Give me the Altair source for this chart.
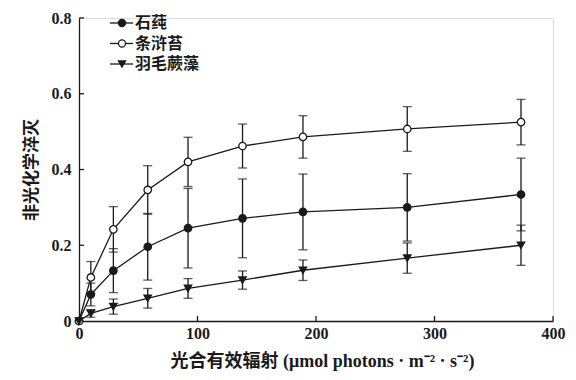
import altair as alt
import pandas as pd

# ---- data ----
ppfd = [0, 10, 29, 58, 92, 138, 189, 277, 373]
series = ["石莼", "条浒苔", "羽毛蕨藻"]
mean_shichun = [0, 0.070, 0.133, 0.196, 0.245, 0.271, 0.288, 0.300, 0.334]
err_shichun = [0, 0.030, 0.058, 0.088, 0.105, 0.104, 0.100, 0.089, 0.096]
mean_tiaohutai = [0, 0.115, 0.242, 0.346, 0.420, 0.462, 0.486, 0.507, 0.525]
err_tiaohutai = [0, 0.042, 0.060, 0.064, 0.065, 0.058, 0.056, 0.059, 0.060]
mean_yumao = [0, 0.020, 0.038, 0.060, 0.086, 0.108, 0.134, 0.166, 0.200]
err_yumao = [0, 0.010, 0.020, 0.026, 0.026, 0.024, 0.027, 0.040, 0.053]
xticks = [0, 100, 200, 300, 400]
yticks = [0, 0.2, 0.4, 0.6, 0.8]

rows = []
for name, m, e in zip(series, [mean_shichun, mean_tiaohutai, mean_yumao],
                      [err_shichun, err_tiaohutai, err_yumao]):
    for x, mv, ev in zip(ppfd, m, e):
        rows.append({"name": name, "x": x, "y": mv, "lo": mv - ev, "hi": mv + ev})
df = pd.DataFrame(rows)
df_err = df[df["x"] > 0]

W, H = 474, 303
INK = "#1a1a1a"
SERIF = "Liberation Serif"
CJK = "Noto Sans CJK SC"

xs = alt.Scale(domain=[0, 400], nice=False, zero=False)
ys = alt.Scale(domain=[0, 0.8], nice=False)

shape_scale = alt.Scale(domain=series, range=["circle", "circle", "triangle-down"])
fill_scale = alt.Scale(domain=series, range=[INK, "white", INK])

X = alt.X("x:Q", scale=xs, axis=alt.Axis(
    values=xticks, ticks=False, grid=False, domainColor=INK, domainWidth=1.3, labelFlush=False,
    labelFont=SERIF, labelFontWeight="bold", labelFontSize=16, labelColor=INK, labelPadding=4,
    title="光合有效辐射 (μmol photons · m⁻² · s⁻²)", titleFont=f"{SERIF}, {CJK}",
    titleFontWeight="bold", titleFontSize=18, titleColor=INK, titlePadding=11, titleX=243))
Y = alt.Y("y:Q", scale=ys, axis=alt.Axis(
    values=yticks, ticks=False, grid=False, domainColor=INK, domainWidth=1.3, labelFlush=False,
    labelFont=SERIF, labelFontWeight="bold", labelFontSize=16, labelColor=INK, labelPadding=8,
    labelExpr="datum.value == 0 ? '0' : format(datum.value, '.1f')",
    title="非光化学淬灭", titleFont=CJK, titleFontWeight="bold", titleFontSize=17,
    titleColor=INK, titlePadding=11))

base = alt.Chart(df)
lines = base.mark_line(color=INK, strokeWidth=1.3).encode(x=X, y=Y, detail="name:N")
rules = alt.Chart(df_err).mark_rule(color=INK, strokeWidth=1.3).encode(
    x=alt.X("x:Q", scale=xs), y=alt.Y("lo:Q", scale=ys), y2="hi:Q")
cap_lo = alt.Chart(df_err).mark_tick(color=INK, thickness=1.3, size=9, orient="horizontal").encode(
    x=alt.X("x:Q", scale=xs), y=alt.Y("lo:Q", scale=ys))
cap_hi = alt.Chart(df_err).mark_tick(color=INK, thickness=1.3, size=9, orient="horizontal").encode(
    x=alt.X("x:Q", scale=xs), y=alt.Y("hi:Q", scale=ys))
points = base.mark_point(size=55, stroke=INK, strokeWidth=1.3, opacity=1, filled=False).encode(
    x=alt.X("x:Q", scale=xs), y=alt.Y("y:Q", scale=ys),
    shape=alt.Shape("name:N", scale=shape_scale, legend=None),
    fill=alt.Fill("name:N", scale=fill_scale, legend=None))

# inward tick marks
xt = alt.Chart(pd.DataFrame({"v": xticks[1:]})).mark_rule(color=INK, strokeWidth=1.3).encode(
    x=alt.X("v:Q", scale=xs), y=alt.value(H - 5), y2=alt.value(H))
yt = alt.Chart(pd.DataFrame({"v": yticks[1:]})).mark_rule(color=INK, strokeWidth=1.3).encode(
    y=alt.Y("v:Q", scale=ys), x=alt.value(0), x2=alt.value(5))

main = alt.layer(lines, rules, cap_lo, cap_hi, xt, yt, points)

# legend drawn inside the plot
leg_df = pd.DataFrame({"name": series})
LY = alt.Y("name:N", scale=alt.Scale(type="point", domain=series, range=[5, 46], padding=0), axis=None)
leg_line = alt.Chart(leg_df).mark_rule(color=INK, strokeWidth=1.3).encode(
    y=LY, x=alt.value(31), x2=alt.value(54))
leg_pt = alt.Chart(leg_df).mark_point(size=50, stroke=INK, strokeWidth=1.3, opacity=1).encode(
    y=LY, x=alt.value(43),
    shape=alt.Shape("name:N", scale=shape_scale, legend=None),
    fill=alt.Fill("name:N", scale=fill_scale, legend=None))
leg_txt = alt.Chart(leg_df).mark_text(align="left", baseline="middle", font=CJK, fontWeight="bold",
                                      fontSize=16, color=INK).encode(
    y=LY, x=alt.value(56), text="name:N")
legend = alt.layer(leg_line, leg_pt, leg_txt)

chart = alt.layer(main, legend).resolve_scale(y="independent").properties(
    width=W, height=H,
    autosize=alt.AutoSizeParams(type="none"),
    padding={"left": 71, "top": 10, "right": 15, "bottom": 51},
).configure_view(stroke=None).configure(background="white")

chart.save("out.html", embed_options={"renderer": "svg", "actions": False})
